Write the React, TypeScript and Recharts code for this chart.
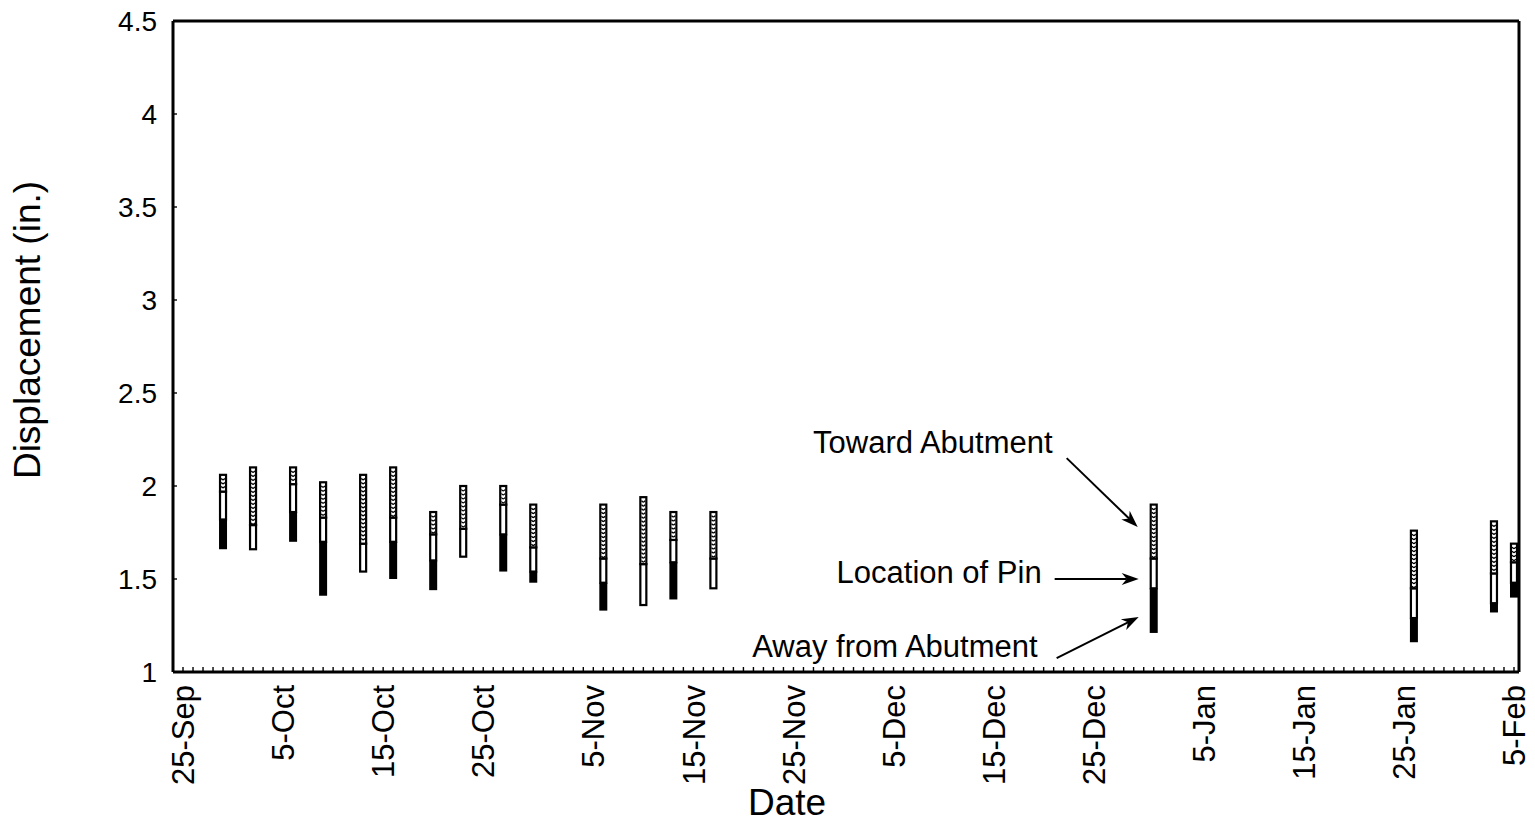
import React from 'react';
import { ComposedChart, Bar, XAxis, YAxis, ReferenceLine, ReferenceDot } from 'recharts';

const FONT = '"Liberation Sans", Arial, Helvetica, sans-serif';

// day index counted from 25-Sep
const MONTH_OFFSET: Record<string, number> = { Sep: -25, Oct: 5, Nov: 36, Dec: 66, Jan: 97, Feb: 128 };
const dayOf = (label: string) => {
  const [d, m] = label.split('-');
  return MONTH_OFFSET[m] + Number(d);
};

// reading dates
const readingDates = [
  '29-Sep', '2-Oct', '6-Oct', '9-Oct', '13-Oct', '16-Oct', '20-Oct', '23-Oct', '27-Oct',
  '30-Oct', '6-Nov', '10-Nov', '13-Nov', '17-Nov', '31-Dec', '26-Jan', '3-Feb', '5-Feb',
];
// lowest point (away from abutment extreme)
const bottomValues = [1.66, 1.66, 1.70, 1.41, 1.54, 1.50, 1.44, 1.62, 1.54, 1.48, 1.33, 1.36, 1.39, 1.45, 1.21, 1.16, 1.32, 1.40];
// top of the "away from abutment" (black) segment
const awayTopValues = [1.82, 1.66, 1.86, 1.70, 1.54, 1.70, 1.60, 1.62, 1.74, 1.54, 1.48, 1.36, 1.59, 1.45, 1.45, 1.29, 1.37, 1.48];
// top of the "location of pin" (white) segment
const pinTopValues = [1.97, 1.79, 2.01, 1.83, 1.69, 1.83, 1.74, 1.77, 1.90, 1.67, 1.61, 1.58, 1.71, 1.61, 1.61, 1.45, 1.53, 1.59];
// top of the "toward abutment" (hatched) segment
const towardTopValues = [2.06, 2.10, 2.10, 2.02, 2.06, 2.10, 1.86, 2.00, 2.00, 1.90, 1.90, 1.94, 1.86, 1.86, 1.90, 1.76, 1.81, 1.69];

const xTickLabels = ['25-Sep', '5-Oct', '15-Oct', '25-Oct', '5-Nov', '15-Nov', '25-Nov', '5-Dec', '15-Dec', '25-Dec', '5-Jan', '15-Jan', '25-Jan', '5-Feb'];
const yTicks = [1, 1.5, 2, 2.5, 3, 3.5, 4, 4.5];
const xDomain: [number, number] = [-1, 133.5];
const yDomain: [number, number] = [1, 4.5];

const data = readingDates.map((d, i) => ({
  day: dayOf(d),
  base: bottomValues[i],
  away: awayTopValues[i] - bottomValues[i],
  pin: pinTopValues[i] - awayTopValues[i],
  toward: towardTopValues[i] - pinTopValues[i],
}));

const labelDays = xTickLabels.map(dayOf);
const dailyTicks: number[] = [];
for (let d = xDomain[0]; d <= Math.floor(xDomain[1]); d++) dailyTicks.push(d);

const XTick = (props: any) => {
  const { x, y, payload } = props;
  const idx = labelDays.indexOf(payload.value);
  return (
    <g>
      <line x1={x} y1={y} x2={x} y2={y - 5} stroke="#000" strokeWidth={1.4} />
      {idx >= 0 && (
        <text
          transform={`translate(${x},${y + 13}) rotate(-90)`}
          textAnchor="end"
          dy="0.36em"
          fontSize={31}
          fontFamily={FONT}
          fill="#000"
        >
          {xTickLabels[idx]}
        </text>
      )}
    </g>
  );
};

const YTick = (props: any) => {
  const { x, y, payload } = props;
  return (
    <g>
      <line x1={x} y1={y} x2={x + 4} y2={y} stroke="#000" strokeWidth={1.4} />
      <text x={x - 16} y={y} dy="0.36em" textAnchor="end" fontSize={28} fontFamily={FONT} fill="#000">
        {payload.value}
      </text>
    </g>
  );
};

const BlackShape = (p: any) => {
  const { x, y, width, height } = p;
  if (!(height > 0.5)) return <g />;
  return <rect x={x} y={y} width={width} height={height} fill="#000" />;
};

const WhiteShape = (p: any) => {
  const { x, y, width, height } = p;
  if (!(height > 0.5)) return <g />;
  return <rect x={x + 1} y={y} width={width - 2} height={height} fill="#fff" stroke="#000" strokeWidth={2.2} />;
};

const HatchShape = (p: any) => {
  const { x, y, width, height } = p;
  if (!(height > 0.5)) return <g />;
  const cx = x + width / 2;
  const segs: string[] = [];
  for (let yy = y + 3.5; yy < y + height - 2; yy += 4) {
    segs.push(`M${cx - 1.8},${yy} q1.8,2.8 3.6,0`);
  }
  return (
    <g>
      <rect x={x + 1} y={y} width={width - 2} height={height} fill="#fff" stroke="#000" strokeWidth={2.2} />
      <path d={segs.join(' ')} fill="none" stroke="#000" strokeWidth={1.3} />
    </g>
  );
};

const ArrowShape = (p: any) => {
  const { x1, y1, x2, y2 } = p;
  if (![x1, y1, x2, y2].every((v) => typeof v === 'number' && isFinite(v))) return <g />;
  const ang = Math.atan2(y2 - y1, x2 - x1);
  const L = 17;
  const W = 6;
  const ca = Math.cos(ang);
  const sa = Math.sin(ang);
  const bx = x2 - L * ca;
  const by = y2 - L * sa;
  const nx = x2 - (L - 5) * ca;
  const ny = y2 - (L - 5) * sa;
  const pts = [
    `${x2},${y2}`,
    `${bx - sa * W},${by + ca * W}`,
    `${nx},${ny}`,
    `${bx + sa * W},${by - ca * W}`,
  ].join(' ');
  return (
    <g>
      <line x1={x1} y1={y1} x2={nx} y2={ny} stroke="#000" strokeWidth={2} />
      <polygon points={pts} fill="#000" />
    </g>
  );
};

const makeTextShape = (txt: string) => (p: any) => {
  const { cx, cy } = p;
  return (
    <text x={cx} y={cy} textAnchor="end" fontSize={31} fontFamily={FONT} fill="#000">
      {txt}
    </text>
  );
};

// annotation anchors (data coordinates: day index, displacement)
const annotationTexts = ['Toward Abutment', 'Location of Pin', 'Away from Abutment'];
const annotationTextDays = [86.9, 85.8, 85.4];
const annotationTextValues = [2.175, 1.478, 1.08];
const arrowFromDays = [88.3, 87.1, 87.3];
const arrowFromValues = [2.15, 1.5, 1.075];
const arrowToDays = [95.4, 95.5, 95.5];
const arrowToValues = [1.78, 1.5, 1.296];

const DateTitle = () => (
  <text x={787} y={815} textAnchor="middle" fontSize={37} fontFamily={FONT} fill="#000">
    Date
  </text>
);

const YTitle = () => (
  <text
    transform="translate(27,330) rotate(-90)"
    textAnchor="middle"
    dy="0.36em"
    fontSize={37}
    fontFamily={FONT}
    fill="#000"
  >
    Displacement (in.)
  </text>
);

export default function App() {
  return (
    <div style={{ position: 'absolute', left: 0, top: 0, width: 1535, height: 823, background: '#fff' }}>
      <ComposedChart
        width={1535}
        height={823}
        data={data}
        margin={{ top: 21, right: 16, left: 113, bottom: 41 }}
      >
        <XAxis
          type="number"
          dataKey="day"
          domain={xDomain}
          allowDataOverflow
          ticks={dailyTicks}
          interval={0}
          tick={<XTick />}
          tickLine={false}
          tickSize={0}
          tickMargin={0}
          height={110}
          axisLine={{ stroke: '#000', strokeWidth: 3 }}
          label={{ content: DateTitle }}
        />
        <YAxis
          type="number"
          domain={yDomain}
          allowDataOverflow
          ticks={yTicks}
          interval={0}
          tick={<YTick />}
          tickLine={false}
          tickSize={0}
          tickMargin={0}
          width={60}
          axisLine={{ stroke: '#000', strokeWidth: 3 }}
          label={{ content: YTitle }}
        />
        <Bar dataKey="base" stackId="s" fill="transparent" barSize={8} isAnimationActive={false} />
        <Bar dataKey="away" stackId="s" barSize={8} shape={BlackShape} isAnimationActive={false} />
        <Bar dataKey="pin" stackId="s" barSize={8} shape={WhiteShape} isAnimationActive={false} />
        <Bar dataKey="toward" stackId="s" barSize={8} shape={HatchShape} isAnimationActive={false} />
        <ReferenceLine y={yDomain[1]} stroke="#000" strokeWidth={3} />
        <ReferenceLine x={xDomain[1]} stroke="#000" strokeWidth={3} />
        {annotationTexts.map((t, i) => (
          <ReferenceLine
            key={`arrow-${i}`}
            segment={[
              { x: arrowFromDays[i], y: arrowFromValues[i] },
              { x: arrowToDays[i], y: arrowToValues[i] },
            ]}
            shape={ArrowShape}
          />
        ))}
        {annotationTexts.map((t, i) => (
          <ReferenceDot
            key={`txt-${i}`}
            x={annotationTextDays[i]}
            y={annotationTextValues[i]}
            r={1}
            shape={makeTextShape(t)}
          />
        ))}
      </ComposedChart>
    </div>
  );
}
